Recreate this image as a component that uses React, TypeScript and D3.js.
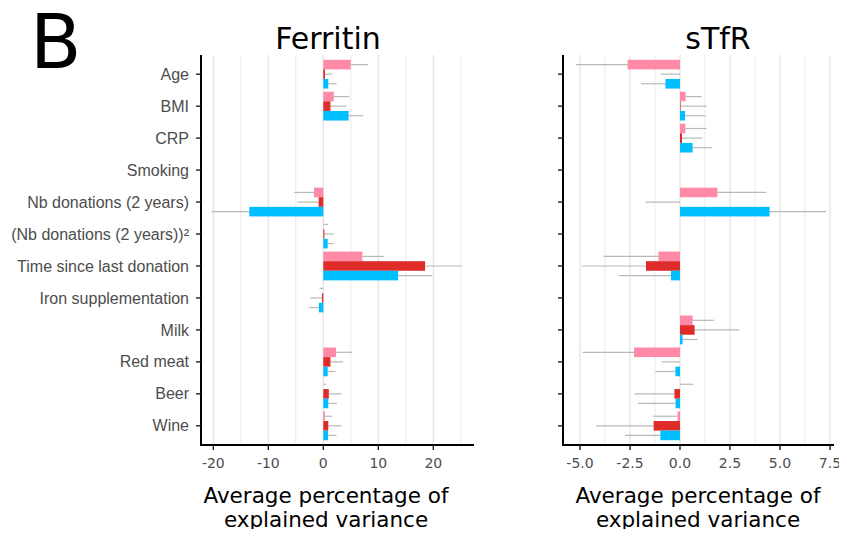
import * as d3 from "d3";
import { useEffect, useRef } from "react";

// predictors, top to bottom
const categories = [
  "Age",
  "BMI",
  "CRP",
  "Smoking",
  "Nb donations (2 years)",
  "(Nb donations (2 years))²",
  "Time since last donation",
  "Iron supplementation",
  "Milk",
  "Red meat",
  "Beer",
  "Wine",
];

const groups = ["group1", "group2", "group3"];
const groupColors = ["#ff8aa7", "#dd2c2a", "#00bfff"];

// Ferritin: bar value and far end of the interval line
const ferritinG1 = [5.0, 1.9, 0, 0, -1.7, 0.05, 7.1, 0, 0, 2.3, 0, 0.3];
const ferritinG1End = [8.1, 4.7, 0, 0, -5.3, 0.9, 11.0, -0.7, 0, 5.2, 0.5, 1.6];
const ferritinG2 = [0.3, 1.3, 0, 0, -0.85, 0.2, 18.5, -0.25, 0, 1.3, 1.0, 0.9];
const ferritinG2End = [1.6, 4.2, 0, 0, -4.7, 1.9, 25.2, -2.4, 0, 3.6, 3.3, 3.3];
const ferritinG3 = [0.9, 4.6, 0, 0, -13.45, 0.8, 13.6, -0.8, 0, 0.8, 0.9, 0.85];
const ferritinG3End = [2.4, 7.3, 0, 0, -20.3, 1.9, 19.8, -2.6, 0, 2.2, 2.5, 2.4];

// sTfR
const stfrG1 = [-2.62, 0.28, 0.27, 0, 1.87, 0, -1.08, 0, 0.63, -2.3, 0, -0.12];
const stfrG1End = [-5.2, 1.08, 1.33, 0, 4.3, 0, -3.83, 0, 1.7, -4.87, 0.67, -1.33];
const stfrG2 = [0, 0.03, 0.1, 0, 0, 0, -1.7, 0, 0.73, 0, -0.28, -1.32];
const stfrG2End = [-0.97, 1.33, 1.12, 0, -1.72, 0, -4.9, 0, 2.95, -0.92, -2.28, -4.2];
const stfrG3 = [-0.73, 0.25, 0.63, 0, 4.48, 0, -0.45, 0, 0.13, -0.23, -0.22, -0.98];
const stfrG3End = [-1.95, 1.28, 1.6, 0, 7.3, 0, -3.05, 0, 0.88, -1.23, -2.1, -2.75];

const ferritinTicks = [-20, -10, 0, 10, 20];
const stfrTicks = [-5, -2.5, 0, 2.5, 5, 7.5];

const W = 847;
const H = 537;
const TOP = 55;
const BOTTOM = 445;

function drawPanel(svg, opts) {
  const { x0, x1, domain, ticks, fmt, values, ends, title, titleX, labelX, showLabels } = opts;

  const x = d3.scaleLinear().domain(domain).range([x0, x1]);
  const y = d3.scalePoint().domain(categories).range([TOP, BOTTOM]).padding(0.6);
  const step = y.step();
  const sub = d3
    .scaleBand()
    .domain(groups)
    .range([-0.45 * step, 0.45 * step]);

  const g = svg.append("g");

  // grid, major + minor
  const minor = [];
  for (let i = 0; i < ticks.length - 1; i++) minor.push((ticks[i] + ticks[i + 1]) / 2);
  const tstep = ticks[1] - ticks[0];
  minor.push(ticks[0] - tstep / 2, ticks[ticks.length - 1] + tstep / 2);
  g.selectAll("line.minor")
    .data(minor.filter((v) => x(v) > x0 && x(v) < x1))
    .enter()
    .append("line")
    .attr("x1", (d) => x(d))
    .attr("x2", (d) => x(d))
    .attr("y1", TOP)
    .attr("y2", BOTTOM)
    .attr("stroke", "#ececec")
    .attr("stroke-width", 1.1);
  g.selectAll("line.major")
    .data(ticks)
    .enter()
    .append("line")
    .attr("x1", (d) => x(d))
    .attr("x2", (d) => x(d))
    .attr("y1", TOP)
    .attr("y2", BOTTOM)
    .attr("stroke", "#e6e6e6")
    .attr("stroke-width", 1.4);

  groups.forEach((grp, gi) => {
    const rows = categories.map((c, i) => ({ c, v: values[gi][i], e: ends[gi][i] }));
    // interval lines
    g.selectAll("line.err" + gi)
      .data(rows.filter((r) => r.e !== r.v))
      .enter()
      .append("line")
      .attr("x1", (d) => x(d.v))
      .attr("x2", (d) => x(d.e))
      .attr("y1", (d) => y(d.c) + sub(grp) + sub.bandwidth() / 2)
      .attr("y2", (d) => y(d.c) + sub(grp) + sub.bandwidth() / 2)
      .attr("stroke", "#b8b8b8")
      .attr("stroke-width", 1.2);
    g.selectAll("rect.bar" + gi)
      .data(rows.filter((r) => r.v !== 0))
      .enter()
      .append("rect")
      .attr("x", (d) => Math.min(x(0), x(d.v)))
      .attr("width", (d) => Math.abs(x(d.v) - x(0)))
      .attr("y", (d) => y(d.c) + sub(grp))
      .attr("height", sub.bandwidth())
      .attr("fill", groupColors[gi]);
  });

  // axes
  g.append("line")
    .attr("x1", x0)
    .attr("x2", x0)
    .attr("y1", TOP)
    .attr("y2", BOTTOM + 1)
    .attr("stroke", "#000")
    .attr("stroke-width", 2);
  g.append("line")
    .attr("x1", x0 - 1)
    .attr("x2", x1)
    .attr("y1", BOTTOM)
    .attr("y2", BOTTOM)
    .attr("stroke", "#000")
    .attr("stroke-width", 2);

  g.selectAll("line.ytick")
    .data(categories)
    .enter()
    .append("line")
    .attr("x1", x0 - 5)
    .attr("x2", x0)
    .attr("y1", (d) => y(d))
    .attr("y2", (d) => y(d))
    .attr("stroke", "#222")
    .attr("stroke-width", 1.4);

  if (showLabels) {
    g.selectAll("text.ylab")
      .data(categories)
      .enter()
      .append("text")
      .attr("x", x0 - 12)
      .attr("y", (d) => y(d))
      .attr("dy", "0.35em")
      .attr("text-anchor", "end")
      .attr("font-family", "'Liberation Sans', Arial, sans-serif")
      .attr("font-size", 16)
      .attr("fill", "#4d4d4d")
      .text((d) => d);
  }

  g.selectAll("line.xtick")
    .data(ticks)
    .enter()
    .append("line")
    .attr("x1", (d) => x(d))
    .attr("x2", (d) => x(d))
    .attr("y1", BOTTOM)
    .attr("y2", BOTTOM + 5)
    .attr("stroke", "#222")
    .attr("stroke-width", 1.4);
  g.selectAll("text.xlab")
    .data(ticks)
    .enter()
    .append("text")
    .attr("x", (d) => x(d))
    .attr("y", 468)
    .attr("text-anchor", "middle")
    .attr("font-family", "'DejaVu Sans', sans-serif")
    .attr("font-size", 14)
    .attr("fill", "#4d4d4d")
    .text((d) => fmt(d));

  g.append("text")
    .attr("x", titleX)
    .attr("y", 49)
    .attr("text-anchor", "middle")
    .attr("font-family", "'DejaVu Sans', sans-serif")
    .attr("font-size", 30)
    .attr("fill", "#000")
    .text(title);

  const xt = g
    .append("text")
    .attr("text-anchor", "middle")
    .attr("font-family", "'DejaVu Sans', sans-serif")
    .attr("font-size", 21.5)
    .attr("fill", "#000");
  xt.append("tspan").attr("x", labelX).attr("y", 503).text("Average percentage of");
  xt.append("tspan").attr("x", labelX).attr("y", 527).text("explained variance");
}

export default function App() {
  const ref = useRef(null);

  useEffect(() => {
    const svg = d3.select(ref.current);
    svg.selectAll("*").remove();

    svg.append("text")
      .attr("x", 30)
      .attr("y", 68)
      .attr("font-family", "'DejaVu Sans', sans-serif")
      .attr("font-size", 75)
      .attr("fill", "#000")
      .text("B");

    drawPanel(svg, {
      x0: 201,
      x1: 474,
      domain: [-22.24, 27.4],
      ticks: ferritinTicks,
      fmt: (d) => String(d),
      values: [ferritinG1, ferritinG2, ferritinG3],
      ends: [ferritinG1End, ferritinG2End, ferritinG3End],
      title: "Ferritin",
      titleX: 328,
      labelX: 326,
      showLabels: true,
    });

    drawPanel(svg, {
      x0: 563,
      x1: 834,
      domain: [-5.85, 7.7],
      ticks: stfrTicks,
      fmt: (d) => d.toFixed(1),
      values: [stfrG1, stfrG2, stfrG3],
      ends: [stfrG1End, stfrG2End, stfrG3End],
      title: "sTfR",
      titleX: 718,
      labelX: 698,
      showLabels: false,
    });
  }, []);

  return (
    <div style={{ margin: -8 }}>
      <svg ref={ref} width={W} height={H} style={{ display: "block", background: "#fff" }}></svg>
    </div>
  );
}
